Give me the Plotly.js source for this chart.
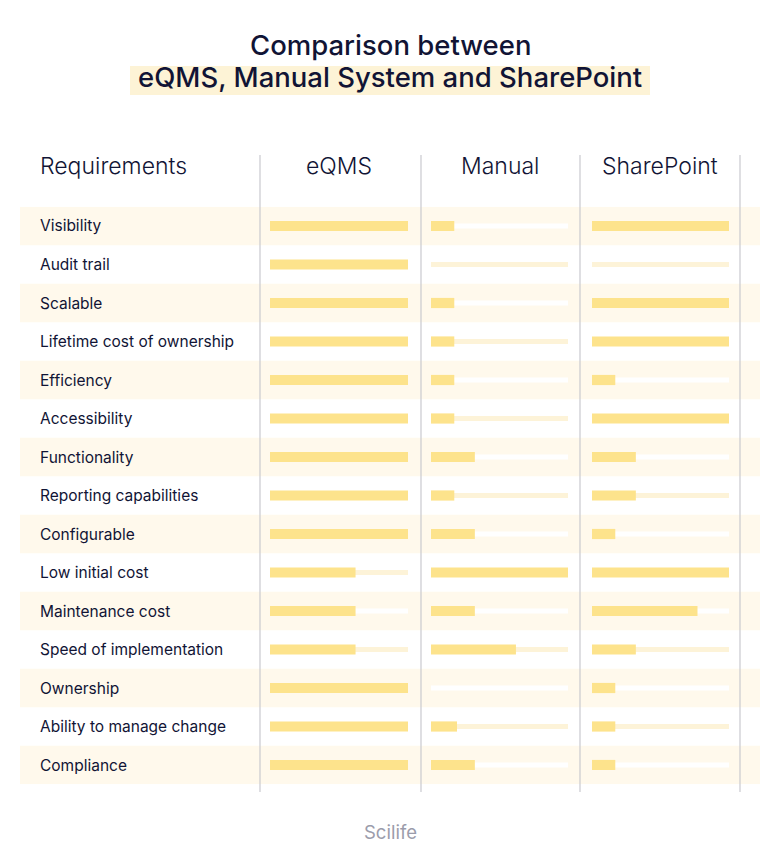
<!DOCTYPE html>
<html>
<head>
<meta charset="utf-8">
<script src="https://cdn.plot.ly/plotly-3.0.1.min.js"></script>
<style>html,body{margin:0;padding:0;background:#fff;}#chart{width:780px;height:852px;}</style>
</head>
<body>
<div id="chart"></div>
<script>
const categories = [
  'Visibility', 'Audit trail', 'Scalable', 'Lifetime cost of ownership', 'Efficiency',
  'Accessibility', 'Functionality', 'Reporting capabilities', 'Configurable', 'Low initial cost',
  'Maintenance cost', 'Speed of implementation', 'Ownership', 'Ability to manage change', 'Compliance'
];
const eqms       = [100, 100, 100, 100, 100, 100, 100, 100, 100, 62, 62, 62, 100, 100, 100];
const manual     = [17, 0, 17, 17, 17, 17, 32, 17, 32, 100, 32, 62, 0, 19, 32];
const sharepoint = [100, 0, 100, 100, 17, 100, 32, 32, 17, 100, 77, 32, 17, 17, 17];
const columnNames = ['eQMS', 'Manual', 'SharePoint'];
const headerFirst = 'Requirements';
const maxScore = 100;
const titleLines = ['Comparison between', 'eQMS, Manual System and SharePoint'];
const footer = 'Scilife';

const W = 780, H = 852;
const px = v => v / W;
const py = v => 1 - v / H;

const BAR = '#fde38c';
const TRACK_ON_WHITE = '#fdf3d8';
const TRACK_ON_CREAM = '#ffffff';
const BAND = '#fff9ec';
const INK = '#111435';
const FONT = 'Inter, "Noto Sans", sans-serif';

const series = [eqms, manual, sharepoint];
const axisNames = ['x', 'x2', 'x3'];
const domains = [[px(270), px(408)], [px(431), px(568)], [px(592), px(729)]];
const headerX = [339, 500, 660];

const traces = [];
series.forEach((vals, k) => {
  traces.push({
    type: 'bar', orientation: 'h', xaxis: axisNames[k], yaxis: 'y',
    y: categories, x: categories.map(() => maxScore),
    width: 0.135,
    marker: { color: categories.map((c, i) => i % 2 === 0 ? TRACK_ON_CREAM : TRACK_ON_WHITE), line: { width: 0 } },
    hoverinfo: 'skip'
  });
  traces.push({
    type: 'bar', orientation: 'h', xaxis: axisNames[k], yaxis: 'y',
    y: categories, x: vals,
    width: 0.265,
    marker: { color: BAR, line: { width: 0 } },
    hoverinfo: 'skip'
  });
});

const shapes = [];
categories.forEach((c, i) => {
  if (i % 2 === 0) {
    shapes.push({ type: 'rect', layer: 'below', xref: 'paper', yref: 'y',
      x0: px(20), x1: px(760), y0: i - 0.5, y1: i + 0.5,
      fillcolor: BAND, line: { width: 0 } });
  }
});
[260, 421, 580, 740].forEach(x => {
  shapes.push({ type: 'line', xref: 'paper', yref: 'paper',
    x0: px(x), x1: px(x), y0: py(792), y1: py(155),
    line: { color: '#c9c9cf', width: 1.2 } });
});
shapes.push({ type: 'rect', layer: 'below', xref: 'paper', yref: 'paper',
  x0: px(130), x1: px(650), y0: py(95), y1: py(66),
  fillcolor: '#fdf3d6', line: { width: 0 } });

const annotations = [];
annotations.push({ text: titleLines[0], xref: 'paper', yref: 'paper', x: 0.5, y: py(45),
  xanchor: 'center', yanchor: 'middle', showarrow: false,
  font: { family: FONT, size: 27.5, color: INK, weight: 500 } });
annotations.push({ text: titleLines[1], xref: 'paper', yref: 'paper', x: 0.5, y: py(77),
  xanchor: 'center', yanchor: 'middle', showarrow: false,
  font: { family: FONT, size: 27.5, color: INK, weight: 500 } });
annotations.push({ text: headerFirst, xref: 'paper', yref: 'paper', x: px(38), y: py(166),
  xanchor: 'left', yanchor: 'middle', showarrow: false,
  font: { family: FONT, size: 23, color: INK, weight: 300 } });
columnNames.forEach((n, k) => {
  annotations.push({ text: n, xref: 'paper', yref: 'paper', x: px(headerX[k]), y: py(166),
    xanchor: 'center', yanchor: 'middle', showarrow: false,
    font: { family: FONT, size: 23, color: INK, weight: 300 } });
});
categories.forEach((c, i) => {
  annotations.push({ text: c, xref: 'paper', yref: 'y', x: px(38), y: i,
    xanchor: 'left', yanchor: 'middle', showarrow: false,
    font: { family: FONT, size: 15.5, color: INK } });
});
annotations.push({ text: footer, xref: 'paper', yref: 'paper', x: 0.5, y: py(832),
  xanchor: 'center', yanchor: 'middle', showarrow: false,
  font: { family: FONT, size: 18.5, color: '#9b9cab' } });

const xa = d => ({ domain: d, range: [0, maxScore], visible: false, fixedrange: true });
const layout = {
  width: W, height: H,
  margin: { l: 0, r: 0, t: 0, b: 0 },
  paper_bgcolor: '#ffffff', plot_bgcolor: 'rgba(0,0,0,0)',
  showlegend: false, barmode: 'overlay',
  xaxis: xa(domains[0]),
  xaxis2: Object.assign(xa(domains[1]), { anchor: 'y' }),
  xaxis3: Object.assign(xa(domains[2]), { anchor: 'y' }),
  yaxis: { type: 'category', categoryarray: categories, categoryorder: 'array',
    range: [categories.length - 0.5, -0.5], domain: [py(784.25), py(206.75)],
    visible: false, fixedrange: true },
  shapes: shapes,
  annotations: annotations
};

Plotly.newPlot('chart', traces, layout, { displayModeBar: false, staticPlot: true });
</script>
</body>
</html>
